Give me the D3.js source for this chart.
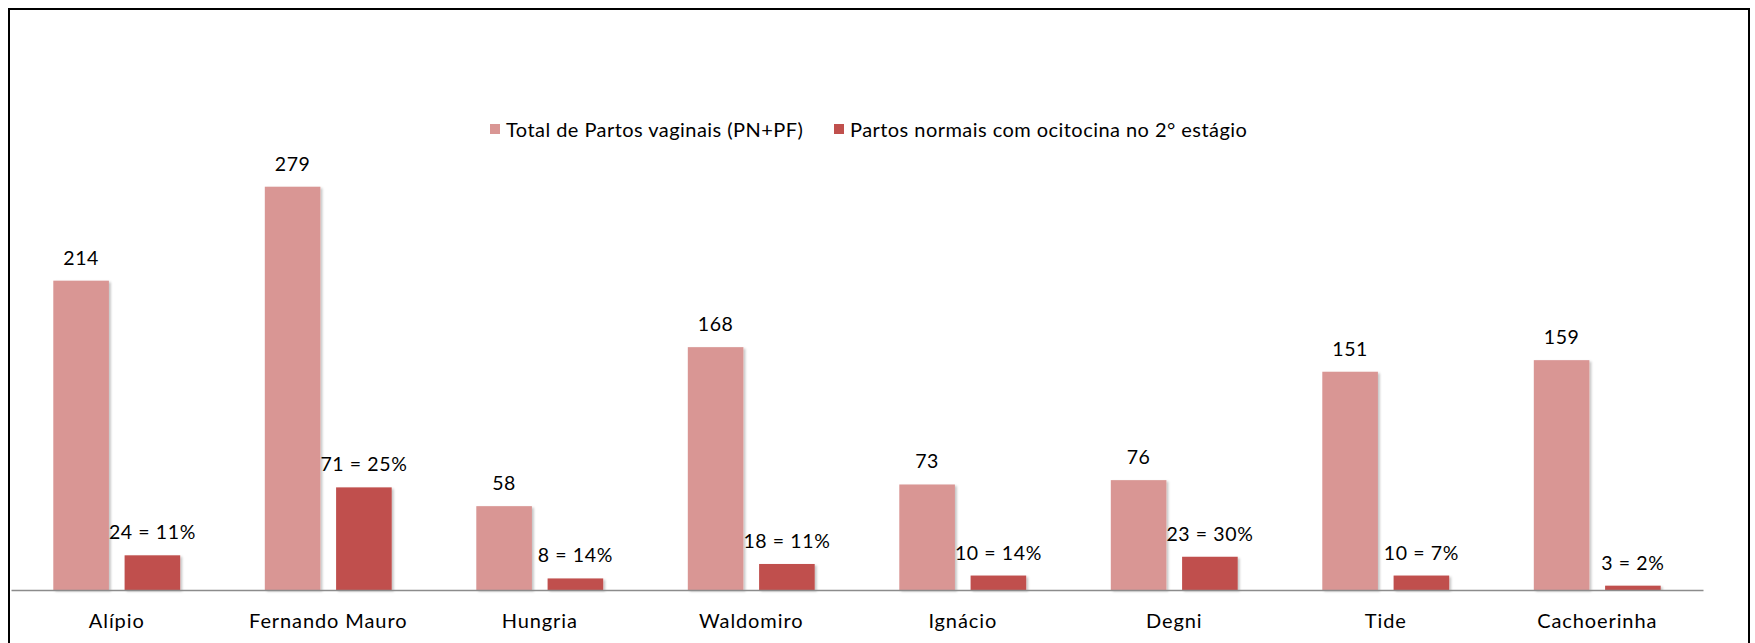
<!DOCTYPE html>
<html>
<head>
<meta charset="utf-8">
<script src="https://cdn.jsdelivr.net/npm/d3@7"></script>
<style>
  html, body { margin: 0; padding: 0; background: #fff; }
  svg { display: block; }
  text { font-family: Lato, "Liberation Sans", sans-serif; fill: #000; }
</style>
</head>
<body>
<svg id="chart" width="1755" height="643"></svg>
<script>
const categories = ["Alípio", "Fernando Mauro", "Hungria", "Waldomiro", "Ignácio", "Degni", "Tide", "Cachoerinha"];
const seriesNames = ["Total de Partos vaginais (PN+PF)", "Partos normais com ocitocina no 2° estágio"];
const totalValues = [214, 279, 58, 168, 73, 76, 151, 159];
const oxyValues = [24, 71, 8, 18, 10, 23, 10, 3];
const oxyPercents = ["11%", "25%", "14%", "11%", "14%", "30%", "7%", "2%"];
const colors = ["#D99694", "#C0504D"];

const svg = d3.select("#chart");

// drop shadow
const defs = svg.append("defs");
const f = defs.append("filter").attr("id", "shadow").attr("x", "-20%").attr("y", "-20%").attr("width", "140%").attr("height", "140%");
f.append("feDropShadow").attr("dx", 2).attr("dy", 1.5).attr("stdDeviation", 1.2)
  .attr("flood-color", "#000").attr("flood-opacity", 0.22);

// outer border
svg.append("rect").attr("x", 9).attr("y", 9).attr("width", 1740).attr("height", 660)
  .attr("fill", "none").attr("stroke", "#000").attr("stroke-width", 2);

const x0 = d3.scaleBand().domain(categories).range([11, 1703]).paddingInner(0).paddingOuter(0);
const bw = x0.bandwidth();
const x1 = d3.scaleBand().domain([0, 1]).range([bw * 0.2, bw * 0.8]).paddingInner(0.22).paddingOuter(0);
const y = d3.scaleLinear().domain([0, 300]).range([590, 590 - 300 * 1.4455]);

const rows = categories.map((c, i) => ({ c, vals: [totalValues[i], oxyValues[i]],
  labels: [String(totalValues[i]), oxyValues[i] + " = " + oxyPercents[i]] }));

const g = svg.append("g");
const groups = g.selectAll("g.grp").data(rows).join("g")
  .attr("class", "grp").attr("transform", d => `translate(${x0(d.c)},0)`);

groups.selectAll("rect").data(d => d.vals.map((v, k) => ({ v, k }))).join("rect")
  .attr("x", d => x1(d.k)).attr("width", x1.bandwidth())
  .attr("y", d => y(d.v)).attr("height", d => y(0) - y(d.v))
  .attr("fill", d => colors[d.k]).attr("filter", "url(#shadow)");

groups.selectAll("text.val").data(d => d.vals.map((v, k) => ({ v, k, lab: d.labels[k] }))).join("text")
  .attr("class", "val")
  .attr("x", d => x1(d.k) + x1.bandwidth() / 2)
  .attr("y", d => y(d.v) - 16)
  .attr("text-anchor", "middle")
  .attr("font-size", 19.5)
  .style("letter-spacing", "0.6px")
  .text(d => d.lab);

// axis
const axis = d3.axisBottom(x0).tickSize(0).tickPadding(0);
const ax = svg.append("g").attr("transform", `translate(0,${y(0)})`).call(axis);
ax.select(".domain").attr("stroke", "#8c8c8c").attr("stroke-width", 1.5);
ax.selectAll(".tick text").attr("dy", null).attr("y", 38)
  .attr("font-size", 20).style("letter-spacing", "0.9px")
  .attr("fill", "#000").attr("font-family", "Lato, 'Liberation Sans', sans-serif");

// legend
const legend = svg.append("g");
const legX = [490, 834];
seriesNames.forEach((s, k) => {
  legend.append("rect").attr("x", legX[k]).attr("y", 124).attr("width", 10).attr("height", 10).attr("fill", colors[k]);
  legend.append("text").attr("x", legX[k] + 16).attr("y", 136.5).attr("font-size", 20)
    .style("letter-spacing", "0.45px").text(s);
});
</script>
</body>
</html>
